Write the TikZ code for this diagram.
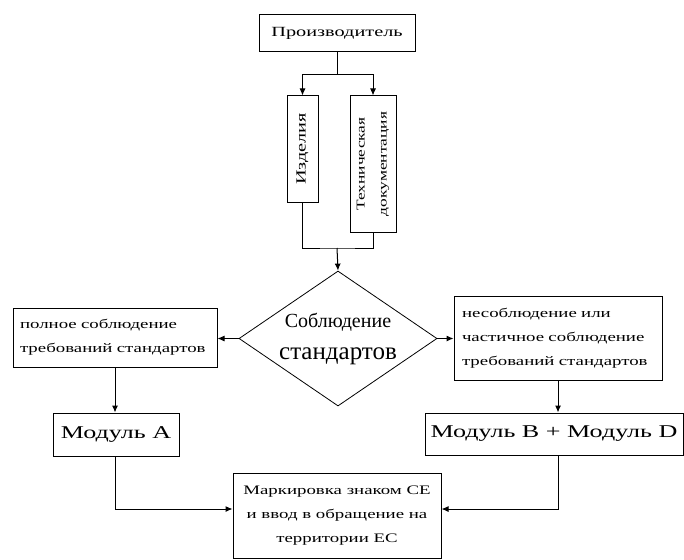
\documentclass[tikz,border=0pt]{standalone}
\usepackage{fontspec}
\setmainfont{Liberation Serif}
\newfontfamily\wide[FakeStretch=1.45]{Liberation Serif}
\usetikzlibrary{shapes.geometric,arrows.meta,calc}

\begin{document}
\begin{tikzpicture}[x=1pt,y=-1pt,
   box/.style={draw,line width=1pt,inner sep=0pt,font=\wide\fontsize{13}{24}\selectfont},
   arr/.style={-{Latex[length=7pt,width=6pt]},line width=1pt}]
   \useasboundingbox (0,0) rectangle (684,559);
   % top part
   \node[box,minimum width=156,minimum height=37,font=\wide\fontsize{14}{16}\selectfont] (prod) at (337,33.5) {Производитель};
   \node[box,rotate=90,minimum width=106,minimum height=31,font=\wide\fontsize{14}{16}\selectfont] (izd) at (302.5,149) {Изделия};
   \node[box,rotate=90,minimum width=136,minimum height=46,align=center,font=\wide\fontsize{12}{22}\selectfont] (tech) at (373,164) {Техническая\\документация};
   \coordinate (fork) at (337,75);
   \coordinate (join) at (337,248);
   \draw[line width=1pt] (prod.south) -- (fork);
   \draw[arr] (fork) -| (izd.east);
   \draw[arr] (fork) -| (tech.east);
   \draw[line width=1pt] (izd.west) |- (join) -| (tech.west);
   % decision
   \node[draw,diamond,aspect=1.47,inner sep=0pt,minimum width=198,minimum height=135,line width=0.8pt,align=center,
      font=\fontsize{20}{32}\selectfont] (dia) at (338,338.5)
      {Соблюдение\\{\fontsize{25}{32}\selectfont стандартов}};
   \draw[arr] (join) -- (dia.north);
   \node[box,minimum height=59,inner xsep=7pt,text width=190,align=left] (full) at (115,337.5)
      {полное соблюдение\\требований стандартов};
   \node[box,minimum height=84,inner xsep=8pt,text width=192,align=left] (part) at (558,338)
      {несоблюдение или\\частичное соблюдение\\требований стандартов};
   \draw[arr] (dia.west) -- (dia.west -| full.east);
   \draw[arr] (dia.east) -- (dia.east -| part.west);
   % modules
   \node[box,minimum width=126,minimum height=43,font=\wide\fontsize{18}{20}\selectfont] (modA) at (116,434.5) {Модуль A};
   \node[box,minimum width=258,minimum height=42,font=\wide\fontsize{18}{20}\selectfont] (modBD) at (554,434) {Модуль B + Модуль D};
   \draw[arr] (full.south) -- (full.south |- modA.north);
   \draw[arr] (part.south) -- (part.south |- modBD.north);
   % result
   \node[box,minimum width=208,minimum height=85,align=center] (mark) at (337,515.5)
      {Маркировка знаком СЕ\\и ввод в обращение на\\территории ЕС};
   \coordinate (inL) at ($(mark.west)+(0,-6.5)$);
   \coordinate (inR) at ($(mark.east)+(0,-6.5)$);
   \draw[arr] (modA.south -| full.south) |- (inL);
   \draw[arr] (modBD.south -| part.south) |- (inR);
\end{tikzpicture}
\end{document}
